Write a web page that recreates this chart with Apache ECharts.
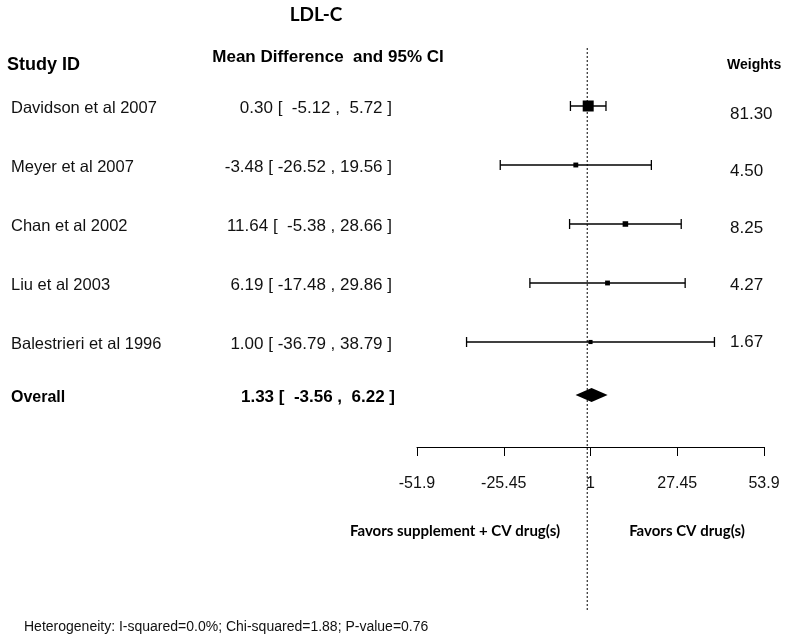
<!DOCTYPE html>
<html><head><meta charset="utf-8">
<script src="https://cdn.jsdelivr.net/npm/echarts@6/dist/echarts.min.js"></script>
<style>html,body{margin:0;padding:0;background:#fff}#c{width:799px;height:644px}</style>
</head><body><div id="c"></div>
<script>
// ---- data ----
const studies = ['Davidson et al 2007', 'Meyer et al 2007', 'Chan et al 2002', 'Liu et al 2003', 'Balestrieri et al 1996'];
const estimates = [0.30, -3.48, 11.64, 6.19, 1.00];
const lowers = [-5.12, -26.52, -5.38, -17.48, -36.79];
const uppers = [5.72, 19.56, 28.66, 29.86, 38.79];
const weights = [81.30, 4.50, 8.25, 4.27, 1.67];
const overallLabel = 'Overall';
const overallEst = 1.33, overallLo = -3.56, overallHi = 6.22;
const tickValues = [-51.9, -25.45, 1, 27.45, 53.9];
const nullValue = 0;
const titleText = 'LDL-C';
const heterogeneity = 'Heterogeneity: I-squared=0.0%; Chi-squared=1.88; P-value=0.76';

// ---- layout ----
const SANS = '"Liberation Sans", Arial, sans-serif';
const HUM = 'Lato, "Open Sans", sans-serif';
const GRID_TOP = 47, GRID_H = 400, ROW_STEP = 59;
const Y_MIN = -1, Y_MAX = Y_MIN + GRID_H / ROW_STEP;
const OVERALL_ROW = studies.length - 0.1;

function pad(s, n) { while (s.length < n) s = ' ' + s; return s; }
function ciText(e, l, h) {
  return e.toFixed(2) + ' [ ' + pad(l.toFixed(2), 6) + ' , ' + pad(h.toFixed(2), 5) + ' ]';
}

const rows = [];
for (let i = 0; i < studies.length; i++) rows.push([estimates[i], lowers[i], uppers[i], i, weights[i]]);
rows.push([overallEst, overallLo, overallHi, OVERALL_ROW, 0]);
const maxW = Math.max.apply(null, weights);

function renderRow(params, api) {
  const i = params.dataIndex;
  const isOverall = i === studies.length;
  const est = api.value(0), lo = api.value(1), hi = api.value(2), row = api.value(3);
  const c = api.coord([est, row]);
  const l = api.coord([lo, row]);
  const h = api.coord([hi, row]);
  const y = c[1];
  const ch = [];
  if (!isOverall) {
    const w = api.value(4);
    ch.push({type: 'line', shape: {x1: l[0], y1: y, x2: h[0], y2: y}, style: {stroke: '#000', lineWidth: 1.3}});
    ch.push({type: 'line', shape: {x1: l[0], y1: y - 5, x2: l[0], y2: y + 5}, style: {stroke: '#000', lineWidth: 1.3}});
    ch.push({type: 'line', shape: {x1: h[0], y1: y - 5, x2: h[0], y2: y + 5}, style: {stroke: '#000', lineWidth: 1.3}});
    const s = 3 + 8 * Math.sqrt(w / maxW);
    ch.push({type: 'rect', shape: {x: c[0] - s / 2, y: y - s / 2, width: s, height: s}, style: {fill: '#000'}});
    ch.push({type: 'text', style: {text: studies[i], x: 11, y: y + 2, font: '16.5px ' + SANS, fill: '#111', textAlign: 'left', textVerticalAlign: 'middle'}});
    ch.push({type: 'text', style: {text: ciText(est, lo, hi), x: 392, y: y + 2, font: '17px ' + SANS, fill: '#111', textAlign: 'right', textVerticalAlign: 'middle'}});
    ch.push({type: 'text', style: {text: w.toFixed(2), x: 730, y: y + 8 - 2 * i, font: '17px ' + SANS, fill: '#111', textAlign: 'left', textVerticalAlign: 'middle'}});
  } else {
    ch.push({type: 'polygon', shape: {points: [[l[0], y], [c[0], y - 7], [h[0], y], [c[0], y + 7]]}, style: {fill: '#000'}});
    ch.push({type: 'text', style: {text: overallLabel, x: 11, y: y + 2, font: 'bold 16px ' + SANS, fill: '#000', textAlign: 'left', textVerticalAlign: 'middle'}});
    ch.push({type: 'text', style: {text: ciText(est, lo, hi), x: 395, y: y + 2, font: 'bold 17px ' + SANS, fill: '#000', textAlign: 'right', textVerticalAlign: 'middle'}});
  }
  return {type: 'group', children: ch};
}

function renderNull(params, api) {
  const top = api.coord([api.value(0), Y_MIN]);
  return {type: 'line', shape: {x1: top[0], y1: top[1] + 1, x2: top[0], y2: 612},
    style: {stroke: '#000', lineWidth: 1, lineDash: [2, 2]}};
}

const chart = echarts.init(document.getElementById('c'), null, {renderer: 'canvas'});
chart.setOption({
  animation: false,
  backgroundColor: '#fff',
  grid: {left: 417, right: 35, top: GRID_TOP, height: GRID_H, containLabel: false},
  xAxis: {
    type: 'value', min: -51.9, max: 53.9, position: 'bottom',
    splitLine: {show: false},
    axisLine: {show: true, onZero: false, lineStyle: {color: '#000', width: 1}},
    axisTick: {show: true, length: 9, customValues: tickValues, lineStyle: {color: '#000', width: 1}},
    axisLabel: {show: true, customValues: tickValues, margin: 29, fontSize: 16, fontFamily: SANS, color: '#111',
      formatter: function (v) { return String(v); }}
  },
  yAxis: {type: 'value', min: Y_MIN, max: Y_MAX, inverse: true, show: false},
  graphic: [
    {type: 'text', style: {text: titleText, x: 316, y: 15, font: 'bold 19px ' + HUM, fill: '#000', textAlign: 'center', textVerticalAlign: 'middle'}},
    {type: 'text', style: {text: 'Study ID', x: 7, y: 65, font: 'bold 18px ' + SANS, fill: '#000', textAlign: 'left', textVerticalAlign: 'middle'}},
    {type: 'text', style: {text: 'Mean Difference  and 95% CI', x: 328, y: 57, font: 'bold 17px ' + SANS, fill: '#000', textAlign: 'center', textVerticalAlign: 'middle'}},
    {type: 'text', style: {text: 'Weights', x: 727, y: 65, font: 'bold 14px ' + SANS, fill: '#000', textAlign: 'left', textVerticalAlign: 'middle'}},
    {type: 'text', style: {text: 'Favors supplement + CV drug(s)', x: 455, y: 531, font: 'bold 15px ' + HUM, fill: '#000', textAlign: 'center', textVerticalAlign: 'middle'}},
    {type: 'text', style: {text: 'Favors CV drug(s)', x: 687, y: 531, font: 'bold 15px ' + HUM, fill: '#000', textAlign: 'center', textVerticalAlign: 'middle'}},
    {type: 'text', style: {text: heterogeneity, x: 24, y: 627, font: '14px ' + SANS, fill: '#111', textAlign: 'left', textVerticalAlign: 'middle'}}
  ],
  series: [
    {type: 'custom', name: 'null', clip: false, renderItem: renderNull, data: [[nullValue, Y_MIN]], encode: {x: 0, y: 1}, silent: true},
    {type: 'custom', name: 'studies', clip: false, renderItem: renderRow, data: rows, encode: {x: [0, 1, 2], y: 3}, silent: true}
  ]
});
</script></body></html>
